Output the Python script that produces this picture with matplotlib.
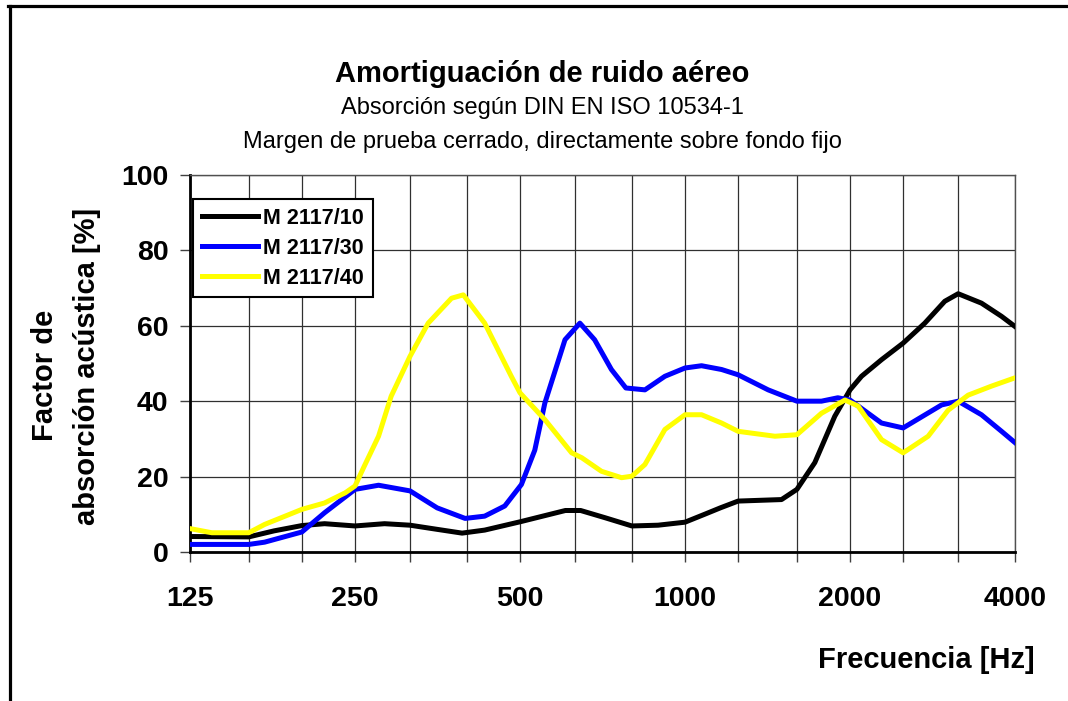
import numpy as np
import matplotlib
matplotlib.use("Agg")
import matplotlib.pyplot as plt
from matplotlib.lines import Line2D
from matplotlib.ticker import FixedLocator, NullFormatter

plt.rcParams["font.family"] = ["Liberation Sans", "DejaVu Sans"]

# Third-octave band grid and labelled ticks
bands = [125, 160, 200, 250, 315, 400, 500, 630, 800, 1000,
         1250, 1600, 2000, 2500, 3150, 4000]
major_ticks = [125, 250, 500, 1000, 2000, 4000]
major_labels = ["125", "250", "500", "1000", "2000", "4000"]

# M 2117/10 (black)
f_10 = [125, 160, 178, 200, 220, 250, 283, 315, 353, 392, 431, 500, 605, 645,
        714, 800, 893, 1000, 1086, 1160, 1250, 1500, 1600, 1725, 1876, 2000,
        2099, 2283, 2500, 2738, 2978, 3150, 3474, 3780, 4000]
a_10 = [4.1, 4.0, 5.6, 7.0, 7.5, 6.9, 7.5, 7.1, 6.0, 5.0, 5.8, 8.0, 11.0, 11.0,
        9.1, 6.9, 7.1, 7.9, 10.0, 11.7, 13.5, 13.9, 16.6, 23.7, 36.0, 43.0,
        46.6, 51.0, 55.4, 60.7, 66.5, 68.5, 66.0, 62.5, 59.8]

# M 2117/30 (blue)
f_30 = [125, 160, 171, 200, 220, 250, 276, 315, 353, 397, 431, 469, 503, 532,
        555, 604, 643, 684, 714, 734, 780, 845, 919, 1000, 1072, 1166, 1250,
        1418, 1600, 1774, 1900, 2000, 2283, 2500, 2938, 3150, 3474, 3780, 4000]
a_30 = [2.0, 2.0, 2.6, 5.3, 10.4, 16.6, 17.7, 16.2, 11.7, 8.9, 9.5, 12.2, 17.9, 27.0,
        39.5, 56.3, 60.7, 56.3, 51.5, 48.4, 43.5, 43.0, 46.6, 48.8, 49.4, 48.4, 47.0,
        43.0, 40.0, 40.0, 40.9, 40.3, 34.2, 32.9, 39.0, 40.0, 36.4, 32.0, 29.0]

# M 2117/40 (yellow)
f_40 = [125, 137, 160, 171, 200, 220, 240, 250, 260, 276, 291, 315, 340, 375,
        394, 431, 482, 500, 555, 621, 648, 704, 766, 800, 845, 919, 1000, 1072,
        1166, 1250, 1459, 1600, 1774, 1958, 2069, 2283, 2500, 2777, 3020, 3285,
        3625, 4000]
a_40 = [6.2, 5.1, 5.1, 7.3, 11.3, 13.0, 15.7, 17.5, 22.8, 30.7, 41.3, 51.9, 60.7, 67.3,
        68.2, 60.7, 46.6, 42.2, 35.1, 26.3, 25.0, 21.4, 19.7, 20.1, 23.2, 32.5, 36.4, 36.4,
        34.2, 32.0, 30.7, 31.1, 36.8, 40.3, 38.7, 29.8, 26.3, 30.7, 37.6, 41.6,
        44.0, 46.2]

fig = plt.figure(figsize=(10.68, 7.01), dpi=100)
ax = fig.add_axes([0.1779, 0.2126, 0.7725, 0.5378])

ax.plot(f_10, a_10, c="black", lw=3.6, label="M 2117/10", zorder=5)
ax.plot(f_30, a_30, c="#0000ff", lw=3.6, label="M 2117/30", zorder=5)
ax.plot(f_40, a_40, c="#ffff00", lw=3.6, label="M 2117/40", zorder=5)

ax.set_xscale("log")
ax.set_xlim(125, 4000)
ax.set_ylim(0, 100)

ax.xaxis.set_major_locator(FixedLocator(major_ticks))
ax.set_xticklabels(major_labels)
ax.xaxis.set_minor_locator(FixedLocator([b for b in bands if b not in major_ticks]))
ax.xaxis.set_minor_formatter(NullFormatter())
ax.set_yticks([0, 20, 40, 60, 80, 100])

for lab in ax.get_xticklabels() + ax.get_yticklabels():
    lab.set_fontweight("bold")
ax.tick_params(axis="x", which="both", direction="out", length=7.5, width=1.0,
               color="#404040", labelsize=20.5, pad=17)
ax.tick_params(axis="y", direction="out", length=7.5, width=1.0,
               color="#404040", labelsize=20.5, pad=8)

ax.grid(True, which="both", axis="x", color="#303030", lw=0.9)
ax.grid(True, which="major", axis="y", color="#303030", lw=0.9)
ax.set_axisbelow(True)

for side in ("left", "bottom"):
    ax.spines[side].set_linewidth(2.0)
    ax.spines[side].set_color("black")
for side in ("top", "right"):
    ax.spines[side].set_linewidth(1.0)
    ax.spines[side].set_color("#505050")

leg = ax.legend(loc="upper left", bbox_to_anchor=(0.004, 0.936), borderaxespad=0,
                fancybox=False, framealpha=1, edgecolor="black",
                prop={"weight": "bold", "size": 15.5}, handlelength=2.6,
                handletextpad=0.25, labelspacing=0.42, borderpad=0.4)
leg.get_frame().set_linewidth(1.5)

fig.text(0.5075, 0.894, "Amortiguación de ruido aéreo", ha="center", va="center",
         fontsize=21, fontweight="bold")
fig.text(0.5075, 0.846, "Absorción según DIN EN ISO 10534-1", ha="center",
         va="center", fontsize=17)
fig.text(0.5075, 0.797, "Margen de prueba cerrado, directamente sobre fondo fijo",
         ha="center", va="center", fontsize=17)

fig.text(45 / 1068, 1 - 375 / 701, "Factor de", rotation=90, ha="center",
         va="center", fontsize=21, fontweight="bold")
fig.text(87 / 1068, 1 - 366 / 701, "absorción acústica [%]", rotation=90,
         ha="center", va="center", fontsize=21, fontweight="bold")
fig.text(1035 / 1068, 1 - 660 / 701, "Frecuencia [Hz]", ha="right", va="center",
         fontsize=21, fontweight="bold")

# outer frame (top and left edges only)
fig.add_artist(Line2D([8 / 1068, 1], [1 - 6 / 701, 1 - 6 / 701],
                      transform=fig.transFigure, c="black", lw=2.3))
fig.add_artist(Line2D([10 / 1068, 10 / 1068], [0, 1 - 6 / 701],
                      transform=fig.transFigure, c="black", lw=2.3))

fig.savefig("out.png", dpi=100)
